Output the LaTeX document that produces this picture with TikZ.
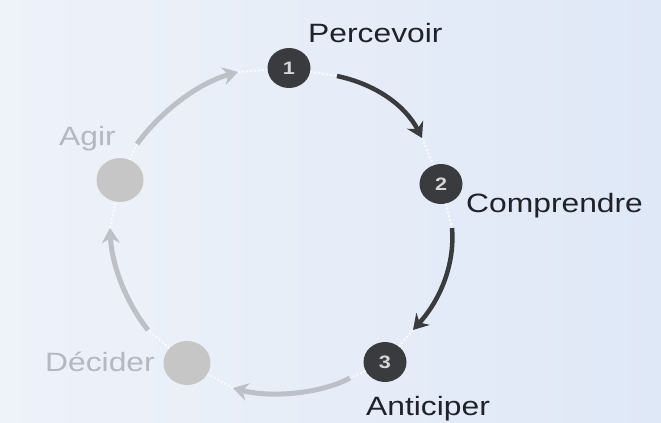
\documentclass[tikz,border=0pt]{standalone}
\usepackage{fontspec}
\newfontfamily\labfont[FakeStretch=1.2]{Liberation Sans}
\usetikzlibrary{arrows.meta,shapes.geometric}
\definecolor{bgA}{HTML}{EEF2F9}
\definecolor{bgB}{HTML}{DFE8F7}
\definecolor{darkc}{HTML}{3A3B3E}
\definecolor{greyc}{HTML}{C6C6C6}
\definecolor{greyarr}{HTML}{BDC0C6}
\definecolor{greytxt}{HTML}{B4B8BF}
\definecolor{darktxt}{HTML}{1F2228}
\definecolor{numc}{HTML}{D6D6D6}
\begin{document}
\begin{tikzpicture}[x=1bp,y=-1bp,
  darknode/.style={ellipse,fill=darkc,minimum width=43bp,minimum height=40bp,inner sep=0pt,
    text=numc,font=\labfont\bfseries\fontsize{18bp}{18bp}\selectfont},
  greynode/.style={ellipse,fill=greyc,minimum width=47bp,minimum height=44bp,inner sep=0pt},
  lab/.style={anchor=base west,inner sep=0pt,font=\labfont\fontsize{26.5bp}{30bp}\selectfont},
  darklab/.style={lab,text=darktxt},
  greylab/.style={lab,text=greytxt},
  darkarr/.style={draw=darkc,line width=4.5bp,-{Stealth[length=15bp,width=18bp,inset=5bp]}},
  greyarr/.style={draw=greyarr,line width=5bp,-{Stealth[length=15bp,width=18bp,inset=5bp]}},
  ring/.style={draw=white,line width=2bp,dotted,opacity=0.8}]
\useasboundingbox (0,0) rectangle (661,422);
\shade[left color=bgA,right color=bgB] (0,0) rectangle (661,422);

% arrow end points
\coordinate (a12s) at (337,76);
\coordinate (a12e) at (422,138);
\coordinate (a23s) at (452,228);
\coordinate (a23e) at (413,330);
\coordinate (a3ds) at (350,378);
\coordinate (a3de) at (233,388);
\coordinate (adas) at (148,330);
\coordinate (adae) at (110,228);
\coordinate (aa1s) at (137,144);
\coordinate (aa1e) at (238,72);

% nodes
\node[darknode] (n1) at (289,68) {1};
\node[darknode] (n2) at (441,184) {2};
\node[darknode] (n3) at (385,362) {3};
\node[greynode] (nd) at (187,363) {};
\node[greynode] (na) at (120,180) {};

% faint dotted ring pieces
\draw[ring] (n1) -- (a12s);
\draw[ring] (a12e) -- (n2);
\draw[ring] (n2) -- (a23s);
\draw[ring] (a23e) -- (n3);
\draw[ring] (n3) -- (a3ds);
\draw[ring] (a3de) -- (nd);
\draw[ring] (nd) -- (adas);
\draw[ring] (adae) -- (na);
\draw[ring] (na) -- (aa1s);
\draw[ring] (aa1e) -- (n1);

% arrows
\draw[darkarr] (a12s) .. controls (375,84) and (405,105) .. (a12e);
\draw[darkarr] (a23s) .. controls (455,265) and (440,300) .. (a23e);
\draw[greyarr] (a3ds) .. controls (320,394) and (270,398) .. (a3de);
\draw[greyarr] (adas) .. controls (128,305) and (112,268) .. (adae);
\draw[greyarr] (aa1s) .. controls (158,115) and (195,84) .. (aa1e);

% labels
\node[darklab] (lp) at (308,42) {Percevoir};
\node[darklab] (lc) at (466,212) {Comprendre};
\node[darklab] (lan) at (366,415) {Anticiper};
\node[greylab] (lag) at (59,145) {Agir};
\node[greylab] (lde) at (45,371) {Décider};
\end{tikzpicture}
\end{document}
